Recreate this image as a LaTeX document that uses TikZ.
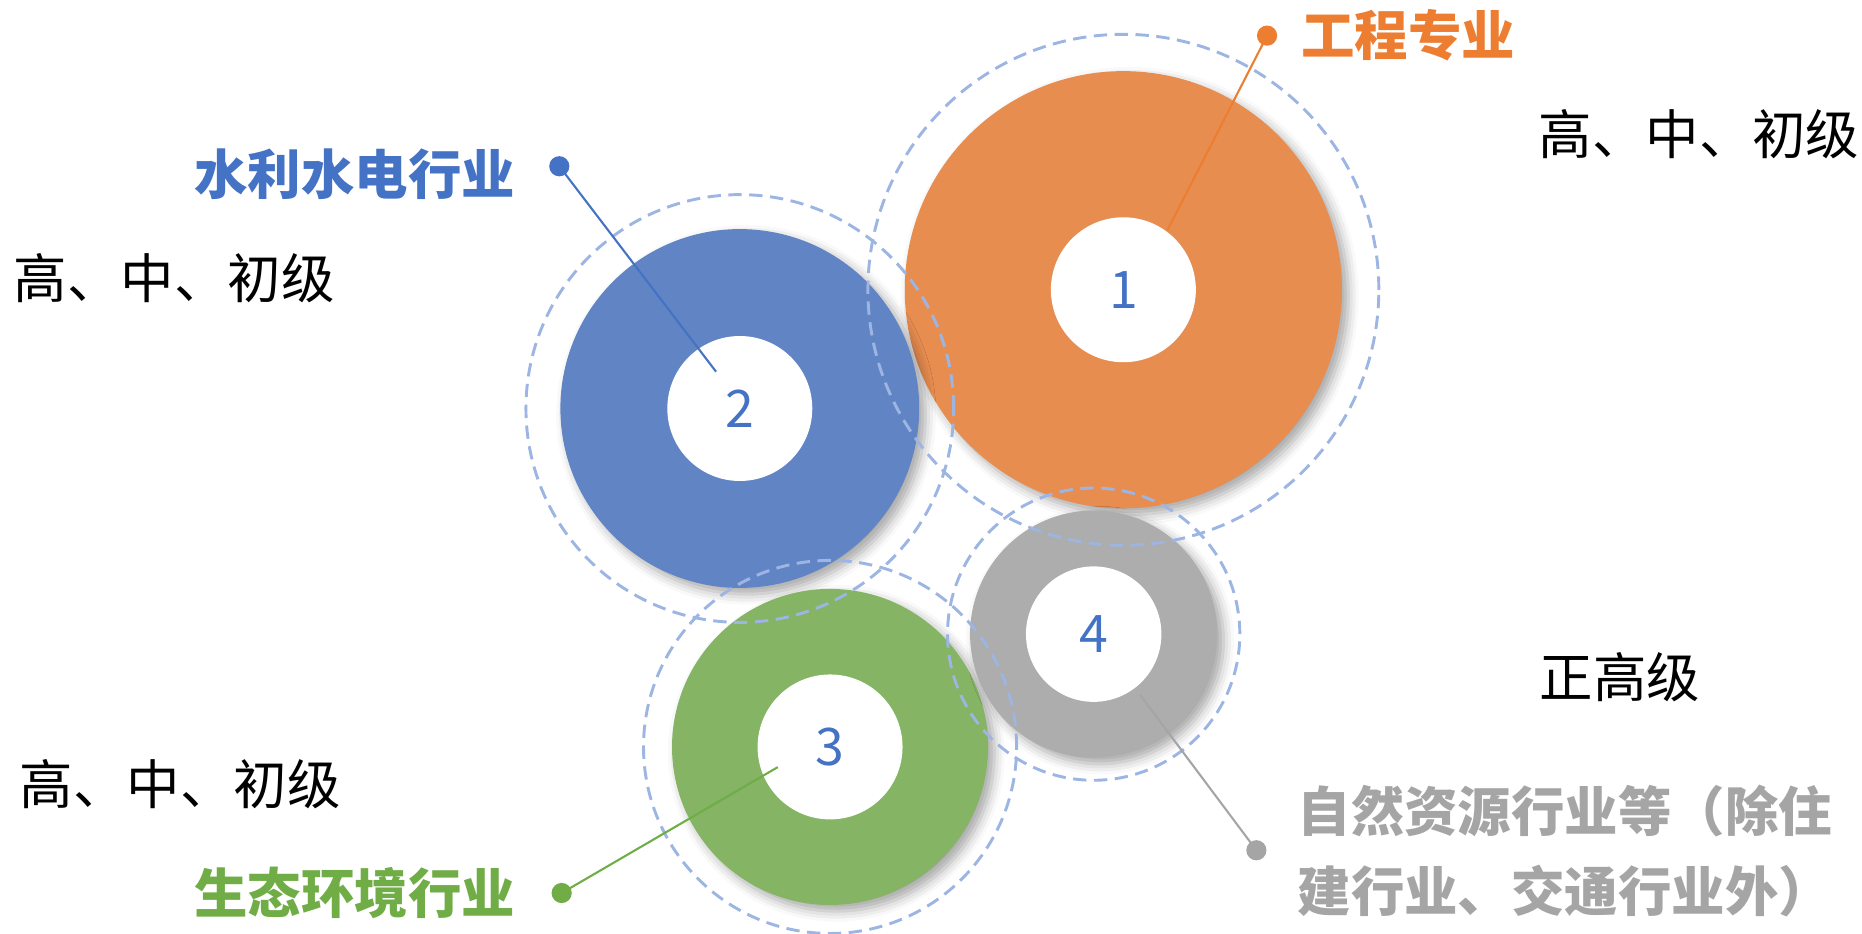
\documentclass[tikz,border=0pt]{standalone}
\usepackage{fontspec}
\newfontfamily\cjk{Noto Sans CJK SC}
\usetikzlibrary{shadows.blur}

\definecolor{orangefill}{HTML}{E88D50}
\definecolor{bluefill}{HTML}{6184C5}
\definecolor{greenfill}{HTML}{84B464}
\definecolor{grayfill}{HTML}{ADADAD}
\definecolor{orangetxt}{HTML}{ED7D31}
\definecolor{bluetxt}{HTML}{4472C4}
\definecolor{greentxt}{HTML}{70AD47}
\definecolor{graytxt}{HTML}{A5A5A5}
\definecolor{ringblue}{HTML}{9DB5E2}

\tikzset{
  disk/.style={circle, inner sep=0pt, minimum size=#1,
    blur shadow={shadow xshift=1.5pt, shadow yshift=-1.5pt, shadow blur radius=2.5pt, shadow opacity=35}},
  hole/.style={circle, fill=white, inner sep=0pt, minimum size=#1, text=bluetxt,
    font=\cjk\fontsize{12.4}{14}\selectfont},
  ring/.style={circle, inner sep=0pt, minimum size=#1, draw=ringblue, line width=0.7pt,
    dash pattern=on 3.2pt off 1.8pt},
  dot/.style={circle, inner sep=0pt, minimum size=0.17cm},
  lead/.style={line width=0.5pt},
  lbl/.style={anchor=west, inner sep=0pt, font=\cjk\bfseries\fontsize{12.8}{19}\selectfont},
  grade/.style={anchor=west, inner sep=0pt, font=\cjk\fontsize{12.8}{19}\selectfont}
}

\begin{document}
\begin{tikzpicture}[x=0.01cm, y=-0.01cm]
\useasboundingbox (0,0) rectangle (1568,785.7);

% coloured disks, the white holes with their numbers, dashed rings
\foreach \n/\x/\y/\D/\col in {1/946/244/3.68/orangefill, 2/623/344/3.02/bluefill,
                               3/699/629/2.66/greenfill, 4/921/534/2.08/grayfill}
  \node[disk=\D cm, fill=\col] (c\n) at (\x,\y) {};
\foreach \n/\d in {1/1.22, 2/1.22, 3/1.22, 4/1.14}
  \node[hole=\d cm] (h\n) at (c\n) {\n};
\foreach \n/\R in {1/4.30, 2/3.60, 3/3.14, 4/2.46}
  \node[ring=\R cm] (r\n) at (c\n) {};

% leader lines
\coordinate (e1) at (983,194);
\coordinate (e2) at (603,313);
\coordinate (e3) at (655,646);
\coordinate (e4) at (960,585);
\node[dot, fill=orangetxt] (d1) at (1067,30) {};
\node[dot, fill=bluetxt] (d2) at (471,140) {};
\node[dot, fill=greentxt] (d3) at (473,752) {};
\node[dot, fill=graytxt] (d4) at (1058,716) {};
\draw[lead, orangetxt] (d1.center) -- (e1);
\draw[lead, bluetxt] (d2.center) -- (e2);
\draw[lead, greentxt] (d3.center) -- (e3);
\draw[lead, graytxt] (d4.center) -- (e4);

% labels
\node[lbl, text=orangetxt] (l1) at (1095,30) {工程专业};
\node[lbl, text=bluetxt] (l2) at (163,147) {水利水电行业};
\node[lbl, text=greentxt] (l3) at (163,752) {生态环境行业};
\node[lbl, text=graytxt, align=left] (l4) at (1092,716.5) {自然资源行业等（除住\\建行业、交通行业外）};

\node[grade] (g1) at (1295,113) {高、中、初级};
\node[grade] (g2) at (11,234) {高、中、初级};
\node[grade] (g3) at (16,660) {高、中、初级};
\node[grade] (g4) at (1296,570) {正高级};
\end{tikzpicture}
\end{document}
